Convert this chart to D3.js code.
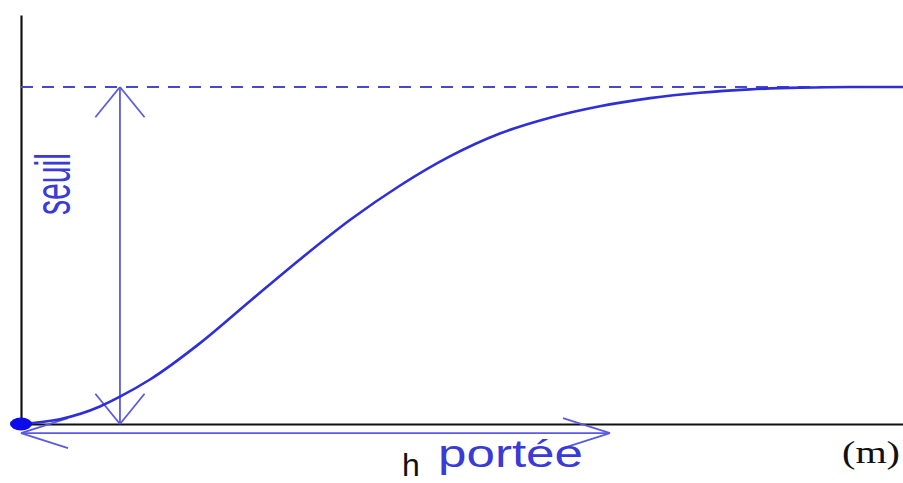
<!DOCTYPE html>
<html>
<head>
<meta charset="utf-8">
<script src="https://cdn.jsdelivr.net/npm/d3@7"></script>
<style>
  html, body { margin: 0; padding: 0; background: #fff; }
  svg { display: block; }
</style>
</head>
<body>
<svg id="chart" width="903" height="483"></svg>
<script>
// Semivariogram (distance h in m, semivariance scaled to the sill)
const lagH   = [0, 6.6, 13.4, 16.8, 21.9, 30.4, 38.9, 47.4, 55.9, 64.3, 72.8, 81.3, 89.8, 98.3, 106.8, 115.3, 123.8, 132.3, 141, 150];
const gammaV = [0, 0.014, 0.052, 0.081, 0.132, 0.24, 0.365, 0.489, 0.606, 0.707, 0.794, 0.862, 0.909, 0.943, 0.967, 0.983, 0.993, 0.998, 1, 1];
const sill = 1;          // seuil
const range = 100;       // portée
const hMax = 150;
const gammaMax = 1.214;
const labels = { sill: "seuil", range: "portée", xVar: "h", unit: "(m)" };

const svg = d3.select("#chart");
const x = d3.scaleLinear().domain([0, range]).range([21, 610]);
const y = d3.scaleLinear().domain([0, sill]).range([424, 87]);

const blue = "#2f2fd6";
const arrowBlue = "#5a5ae2";

// Axes (plain lines, no ticks)
svg.append("g")
  .attr("transform", `translate(0,${y(0)})`)
  .call(d3.axisBottom(x.copy().domain([0, hMax]).range([x(0), x(hMax)])).tickValues([]).tickSizeOuter(0))
  .call(g => g.select(".domain").attr("stroke", "#111").attr("stroke-width", 2.2));
svg.append("g")
  .attr("transform", `translate(${x(0)},0)`)
  .call(d3.axisLeft(y.copy().domain([0, gammaMax]).range([y(0), y(gammaMax)])).tickValues([]).tickSizeOuter(0))
  .call(g => g.select(".domain").attr("stroke", "#111").attr("stroke-width", 2.2));

// Sill level (dashed)
svg.append("line")
  .attr("x1", x(0)).attr("x2", x(hMax))
  .attr("y1", y(sill)).attr("y2", y(sill))
  .attr("stroke", "#4848cc").attr("stroke-width", 2)
  .attr("stroke-dasharray", "12,9");

// Vertical double arrow for the sill
function doubleArrow(x1, y1, x2, y2) {
  const g = svg.append("g").attr("stroke", arrowBlue).attr("stroke-width", 1.8).attr("fill", "none");
  g.append("line").attr("x1", x1).attr("y1", y1).attr("x2", x2).attr("y2", y2);
  const ang = Math.atan2(y2 - y1, x2 - x1);
  const len = 39, spread = Math.PI / 4.6;
  [[x1, y1, ang], [x2, y2, ang + Math.PI]].forEach(([px, py, a]) => {
    [a - spread, a + spread].forEach(b => {
      g.append("line")
        .attr("x1", px).attr("y1", py)
        .attr("x2", px + len * Math.cos(b)).attr("y2", py + len * Math.sin(b));
    });
  });
}
doubleArrow(x(16.8), y(0), x(16.8), y(sill));

// Horizontal double arrow for the range
const hArrowY = y(-0.027);
const ga = svg.append("g").attr("stroke", arrowBlue).attr("stroke-width", 1.8).attr("fill", "none");
ga.append("line").attr("x1", x(0)).attr("y1", hArrowY).attr("x2", x(range)).attr("y2", hArrowY);
[[x(0), 1], [x(range), -1]].forEach(([px, dir]) => {
  [-15, 15].forEach(dy => {
    ga.append("line").attr("x1", px).attr("y1", hArrowY)
      .attr("x2", px + dir * 47).attr("y2", hArrowY + dy);
  });
});

// Model curve
const pts = lagH.map((d, i) => [d, gammaV[i]]);
svg.append("path")
  .datum(pts)
  .attr("fill", "none")
  .attr("stroke", blue)
  .attr("stroke-width", 2.6)
  .attr("d", d3.line().x(d => x(d[0])).y(d => y(d[1])).curve(d3.curveMonotoneX));

// Point at the origin
svg.append("ellipse")
  .attr("cx", x(0)).attr("cy", y(0))
  .attr("rx", 11).attr("ry", 6.5)
  .attr("fill", "#0b0bec");

// Labels
svg.append("text")
  .attr("transform", `translate(70,184) rotate(-90)`)
  .attr("text-anchor", "middle")
  .attr("font-family", "Liberation Sans, Arial, sans-serif")
  .attr("font-size", 50)
  .attr("fill", "#3a3ad6")
  .attr("textLength", 62)
  .attr("lengthAdjust", "spacingAndGlyphs")
  .text(labels.sill);

svg.append("text")
  .attr("x", 438).attr("y", 467)
  .attr("font-family", "Liberation Sans, Arial, sans-serif")
  .attr("font-size", 38)
  .attr("fill", "#3a3ad6")
  .attr("textLength", 145)
  .attr("lengthAdjust", "spacingAndGlyphs")
  .text(labels.range);

svg.append("text")
  .attr("x", 402).attr("y", 476)
  .attr("font-family", "Liberation Sans, Arial, sans-serif")
  .attr("font-size", 32)
  .attr("fill", "#111")
  .text(labels.xVar);

svg.append("text")
  .attr("x", 842).attr("y", 463)
  .attr("font-family", "Liberation Serif, Times New Roman, serif")
  .attr("font-size", 32)
  .attr("fill", "#111")
  .attr("textLength", 58)
  .attr("lengthAdjust", "spacingAndGlyphs")
  .text(labels.unit);
</script>
</body>
</html>
